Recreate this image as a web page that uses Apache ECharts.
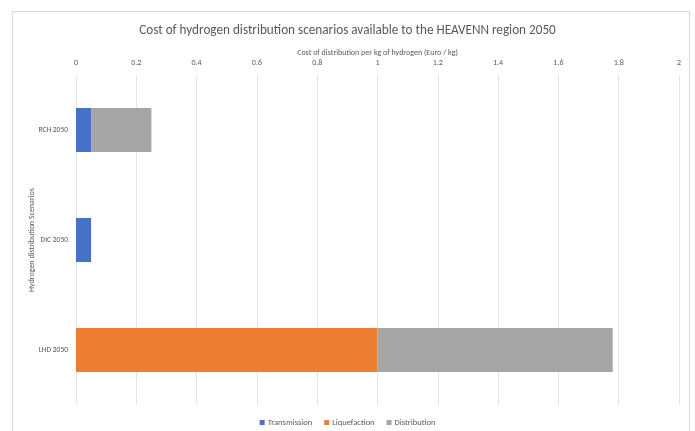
<!DOCTYPE html>
<html><head><meta charset="utf-8">
<script src="https://cdn.jsdelivr.net/npm/echarts@6/dist/echarts.min.js"></script>
<style>html,body{margin:0;padding:0;background:#fff}#c{width:695px;height:431px}</style>
</head><body><div id="c"></div>
<script>
const categories = ['RCH 2050', 'DIC 2050', 'LHD 2050'];
const transmission = [0.05, 0.05, 0];
const liquefaction = [0, 0, 1.0];
const distribution = [0.2, 0, 0.78];
const xTicks = [0, 0.2, 0.4, 0.6, 0.8, 1, 1.2, 1.4, 1.6, 1.8, 2];

const chart = echarts.init(document.getElementById('c'));
const font = 'Calibri, Carlito, "Open Sans", "Noto Sans", sans-serif';
chart.setOption({
  animation: false,
  textStyle: { fontFamily: font },
  graphic: [{
    type: 'rect', shape: { x: 12.5, y: 11.5, width: 677, height: 440 },
    style: { fill: 'none', stroke: '#d9d9d9', lineWidth: 1 }, silent: true
  }],
  title: {
    text: 'Cost of hydrogen distribution scenarios available to the HEAVENN region 2050',
    left: 'center', top: 19,
    textStyle: { fontSize: 13.2, fontWeight: 'normal', color: '#595959', fontFamily: font }
  },
  legend: {
    bottom: -1, left: 'center', itemWidth: 5, itemHeight: 5, itemGap: 12,
    icon: 'rect',
    textStyle: { fontSize: 8.5, color: '#595959', padding: [0, 0, 0, -2] },
    data: ['Transmission', 'Liquefaction', 'Distribution']
  },
  grid: { left: 76, right: 16, top: 75, bottom: 26, containLabel: false },
  xAxis: {
    type: 'value', position: 'top', min: 0, max: 2, interval: 0.2,
    name: 'Cost of distribution per kg of hydrogen (Euro / kg)',
    nameLocation: 'middle', nameGap: 18, nameMoveOverlap: false,
    nameTextStyle: { fontSize: 8, color: '#595959' },
    axisLine: { show: false }, axisTick: { show: false },
    axisLabel: { fontSize: 8, color: '#595959', margin: 8,
      formatter: v => { const t = xTicks.find(x => Math.abs(x - v) < 1e-9); return t === undefined ? '' : String(t); } },
    splitLine: { show: true, lineStyle: { color: '#e3e3e3', width: 1 } }
  },
  yAxis: {
    type: 'category', inverse: true, data: categories,
    name: 'Hydrogen distribution Scenarios', nameLocation: 'middle', nameGap: 40, nameMoveOverlap: false,
    nameTextStyle: { fontSize: 8, color: '#595959' },
    axisLine: { show: false }, axisTick: { show: false },
    axisLabel: { fontSize: 7.5, color: '#595959', margin: 8 }
  },
  series: [
    { name: 'Transmission', type: 'bar', stack: 's', data: transmission, barWidth: '40%', itemStyle: { color: '#4472C4' } },
    { name: 'Liquefaction', type: 'bar', stack: 's', data: liquefaction, barWidth: '40%', itemStyle: { color: '#ED7D31' } },
    { name: 'Distribution', type: 'bar', stack: 's', data: distribution, barWidth: '40%', itemStyle: { color: '#A5A5A5' } }
  ]
});
</script></body></html>
